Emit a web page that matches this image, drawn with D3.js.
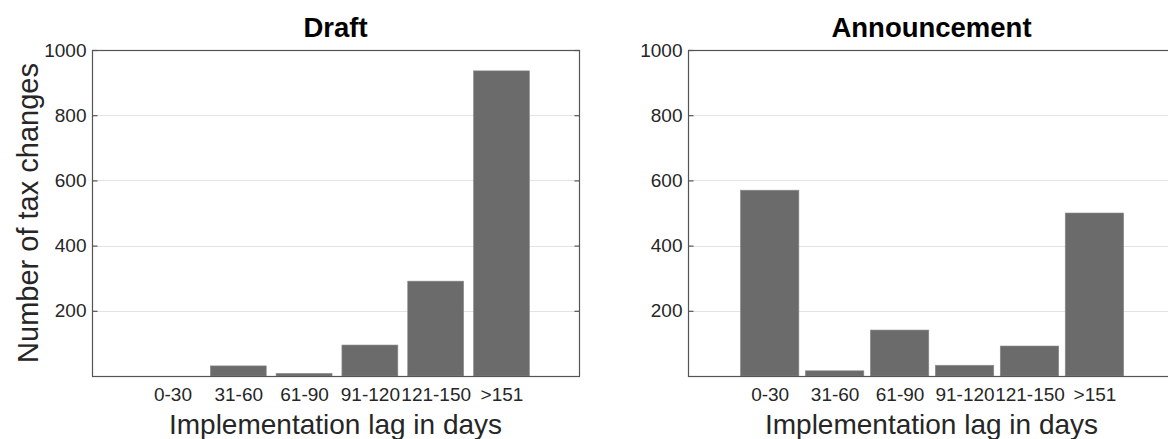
<!DOCTYPE html>
<html>
<head>
<meta charset="utf-8">
<script src="https://cdn.jsdelivr.net/npm/d3@7"></script>
<style>
  html, body { margin: 0; padding: 0; background: #fff; }
  svg { display: block; font-family: "Liberation Sans", Arial, Helvetica, sans-serif; }
</style>
</head>
<body>
<svg id="chart" width="1168" height="439"></svg>
<script>
const categories = ["0-30", "31-60", "61-90", "91-120", "121-150", ">151"];
const draftValues = [0, 31, 8, 95, 291, 936];
const announcementValues = [570, 16, 141, 33, 92, 500];
const yTicks = [200, 400, 600, 800, 1000];
const panelTitles = ["Draft", "Announcement"];
const xAxisLabel = "Implementation lag in days";
const yAxisLabel = "Number of tax changes";

(function () {
const svg = d3.select("#chart");
const plotTop = 50, plotBottom = 376;

const panels = [
  { title: panelTitles[0], values: draftValues, x0: 92, x1: 579, domain: [-1.223, 6.178], barW: 0.85, ylab: true },
  { title: panelTitles[1], values: announcementValues, x0: 688, x1: 1175, domain: [-1.257, 6.24], barW: 0.9, ylab: false }
];

const y = d3.scaleLinear().domain([0, 1000]).range([plotBottom, plotTop]);

panels.forEach(p => {
  const g = svg.append("g");
  const x = d3.scaleLinear().domain(p.domain).range([p.x0, p.x1]);
  const idx = categories.map((c, i) => i);

  // grid lines
  g.append("g").selectAll("line").data(yTicks.filter(t => t < 1000)).join("line")
    .attr("x1", p.x0).attr("x2", p.x1)
    .attr("y1", d => Math.round(y(d)) + 0.5).attr("y2", d => Math.round(y(d)) + 0.5)
    .attr("stroke", "#e3e3e3").attr("stroke-width", 1);

  // bars
  g.append("g").selectAll("rect").data(p.values).join("rect")
    .attr("x", (d, i) => x(i - p.barW / 2))
    .attr("width", (d, i) => x(i + p.barW / 2) - x(i - p.barW / 2))
    .attr("y", d => y(d))
    .attr("height", d => y(0) - y(d))
    .attr("fill", "#6b6b6b")
    .attr("stroke", d => d > 0 ? "#8c8c8c" : "none")
    .attr("stroke-width", 0.6);

  // frame
  g.append("rect")
    .attr("x", p.x0 + 0.5).attr("y", plotTop + 0.5)
    .attr("width", p.x1 - p.x0).attr("height", plotBottom - plotTop)
    .attr("fill", "none").attr("stroke", "#555").attr("stroke-width", 1.2);

  // left axis
  const yl = g.append("g").attr("transform", `translate(${p.x0 + 0.5},0)`)
    .call(d3.axisLeft(y).tickValues(yTicks).tickFormat(d3.format("d"))
      .tickSizeInner(-5).tickSizeOuter(0).tickPadding(6));
  yl.select(".domain").remove();
  yl.selectAll(".tick line").attr("stroke", "#555").attr("stroke-width", 1.2);
  yl.selectAll(".tick text").attr("font-size", 19).attr("fill", "#262626")
    .attr("font-family", "Liberation Sans, Arial, sans-serif");

  // right axis ticks
  const yr = g.append("g").attr("transform", `translate(${p.x1 + 0.5},0)`)
    .call(d3.axisRight(y).tickValues(yTicks).tickSizeInner(-5).tickSizeOuter(0).tickFormat(""));
  yr.select(".domain").remove();
  yr.selectAll(".tick line").attr("stroke", "#555").attr("stroke-width", 1.2);

  // bottom axis labels
  const xb = g.append("g").attr("transform", `translate(0,${plotBottom})`)
    .call(d3.axisBottom(x).tickValues(idx).tickFormat(i => categories[i]).tickSize(0).tickPadding(12));
  xb.select(".domain").remove();
  xb.selectAll(".tick text").attr("font-size", 19).attr("fill", "#262626")
    .attr("font-family", "Liberation Sans, Arial, sans-serif");

  // title
  g.append("text")
    .attr("x", (p.x0 + p.x1) / 2).attr("y", 36.7)
    .attr("text-anchor", "middle")
    .attr("font-size", 27.5).attr("font-weight", "bold").attr("fill", "#000")
    .text(p.title);

  // x label
  g.append("text")
    .attr("x", (p.x0 + p.x1) / 2).attr("y", 434)
    .attr("text-anchor", "middle")
    .attr("font-size", 28).attr("fill", "#262626")
    .text(xAxisLabel);

  if (p.ylab) {
    g.append("text")
      .attr("transform", `translate(38,${(plotTop + plotBottom) / 2}) rotate(-90)`)
      .attr("text-anchor", "middle")
      .attr("font-size", 29).attr("fill", "#262626")
      .text(yAxisLabel);
  }
});
})();
</script>
</body>
</html>
